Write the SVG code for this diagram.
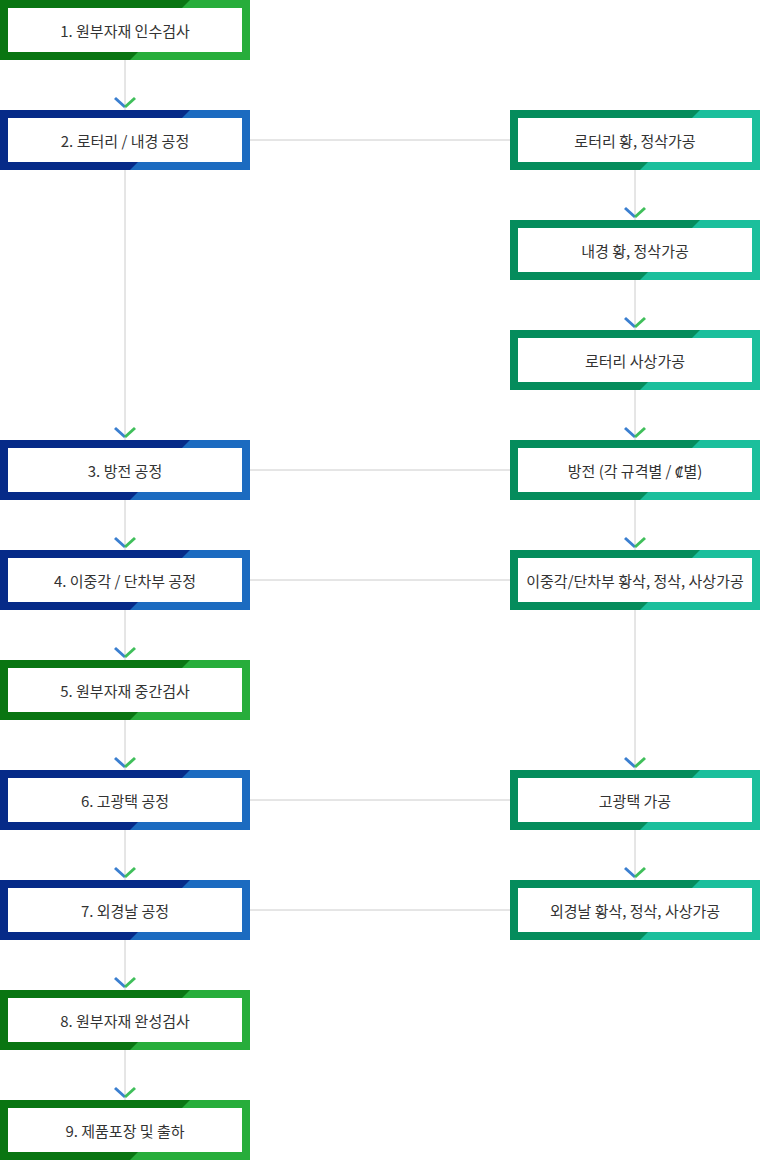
<svg xmlns="http://www.w3.org/2000/svg" xmlns:xlink="http://www.w3.org/1999/xlink" width="760" height="1174" viewBox="0 0 760 1174">
<style>
text{font-family:"Noto Sans CJK KR","Noto Sans",sans-serif;font-size:15px;fill:#333;text-anchor:middle;dominant-baseline:central}
.ln{stroke:#cccccc;stroke-width:1;fill:none}
.cb{stroke:#3b7fd0;stroke-width:3;fill:none}
.cg{stroke:#3fbf5a;stroke-width:3;fill:none}
</style>
<defs>
<g id="bg"><rect width="250" height="60" fill="#27ad3b"/><polygon points="0,0 190,0 130,60 0,60" fill="#097512"/><rect x="8" y="8" width="234" height="44" fill="#fff"/></g>
<g id="bb"><rect width="250" height="60" fill="#1c6bc0"/><polygon points="0,0 190,0 130,60 0,60" fill="#062a88"/><rect x="8" y="8" width="234" height="44" fill="#fff"/></g>
<g id="bt"><rect width="250" height="60" fill="#1bbf9c"/><polygon points="0,0 190,0 130,60 0,60" fill="#058c5c"/><rect x="8" y="8" width="234" height="44" fill="#fff"/></g>
<g id="chev"><path class="cb" d="M-10,-8 L0,1"/><path class="cg" d="M0,1 L10,-8"/></g>
</defs>
<g id="connectors">
<path class="ln" d="M125,60 V1100 M635,170 V880 M250,140 H510 M250,470 H510 M250,580 H510 M250,800 H510 M250,910 H510"/>
<use xlink:href="#chev" x="125" y="106"/><use xlink:href="#chev" x="125" y="436"/><use xlink:href="#chev" x="125" y="546"/><use xlink:href="#chev" x="125" y="656"/><use xlink:href="#chev" x="125" y="766"/><use xlink:href="#chev" x="125" y="876"/><use xlink:href="#chev" x="125" y="986"/><use xlink:href="#chev" x="125" y="1096"/>
<use xlink:href="#chev" x="635" y="216"/><use xlink:href="#chev" x="635" y="326"/><use xlink:href="#chev" x="635" y="436"/><use xlink:href="#chev" x="635" y="546"/><use xlink:href="#chev" x="635" y="766"/><use xlink:href="#chev" x="635" y="876"/>
</g>
<g id="n1" transform="translate(0,0)"><use xlink:href="#bg"/><text x="125" y="30">1. 원부자재 인수검사</text></g>
<g id="n2" transform="translate(0,110)"><use xlink:href="#bb"/><text x="125" y="30">2. 로터리 / 내경 공정</text></g>
<g id="n3" transform="translate(0,440)"><use xlink:href="#bb"/><text x="125" y="30">3. 방전 공정</text></g>
<g id="n4" transform="translate(0,550)"><use xlink:href="#bb"/><text x="125" y="30">4. 이중각 / 단차부 공정</text></g>
<g id="n5" transform="translate(0,660)"><use xlink:href="#bg"/><text x="125" y="30">5. 원부자재 중간검사</text></g>
<g id="n6" transform="translate(0,770)"><use xlink:href="#bb"/><text x="125" y="30">6. 고광택 공정</text></g>
<g id="n7" transform="translate(0,880)"><use xlink:href="#bb"/><text x="125" y="30">7. 외경날 공정</text></g>
<g id="n8" transform="translate(0,990)"><use xlink:href="#bg"/><text x="125" y="30">8. 원부자재 완성검사</text></g>
<g id="n9" transform="translate(0,1100)"><use xlink:href="#bg"/><text x="125" y="30">9. 제품포장 및 출하</text></g>
<g id="r1" transform="translate(510,110)"><use xlink:href="#bt"/><text x="125" y="30">로터리 황, 정삭가공</text></g>
<g id="r2" transform="translate(510,220)"><use xlink:href="#bt"/><text x="125" y="30">내경 황, 정삭가공</text></g>
<g id="r3" transform="translate(510,330)"><use xlink:href="#bt"/><text x="125" y="30">로터리 사상가공</text></g>
<g id="r4" transform="translate(510,440)"><use xlink:href="#bt"/><text x="125" y="30">방전 (각 규격별 / ₡별)</text></g>
<g id="r5" transform="translate(510,550)"><use xlink:href="#bt"/><text x="125" y="30">이중각/단차부 황삭, 정삭, 사상가공</text></g>
<g id="r6" transform="translate(510,770)"><use xlink:href="#bt"/><text x="125" y="30">고광택 가공</text></g>
<g id="r7" transform="translate(510,880)"><use xlink:href="#bt"/><text x="125" y="30">외경날 황삭, 정삭, 사상가공</text></g>
</svg>
